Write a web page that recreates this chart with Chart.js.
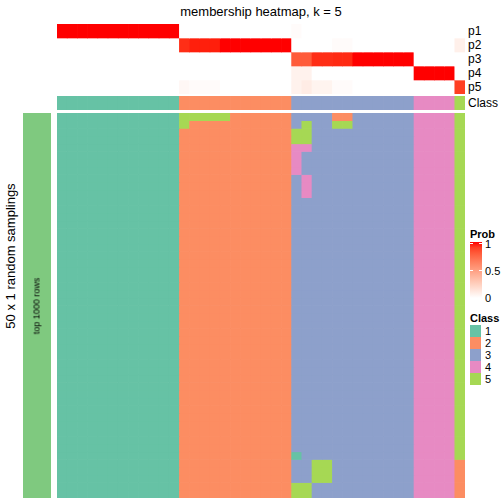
<!DOCTYPE html>
<html><head><meta charset="utf-8">
<script src="https://cdn.jsdelivr.net/npm/chart.js@4.4.1/dist/chart.umd.min.js"></script>
<style>
body{margin:0;background:#fff;font-family:"Liberation Sans",Arial,Helvetica,sans-serif;}
#wrap{position:relative;width:504px;height:504px;overflow:hidden;background:#fff;}
canvas{position:absolute;}
.t{position:absolute;white-space:nowrap;color:#000;line-height:1;transform:translateY(-50%);}
.box{position:absolute;}
</style></head><body><div id="wrap">
<canvas id="probChart" width="408" height="70" style="left:57px;top:24px;width:408px;height:70px"></canvas>
<canvas id="classChart" width="408" height="14" style="left:57px;top:96px;width:408px;height:14px"></canvas>
<canvas id="mainChart" width="408" height="385" style="left:57px;top:113px;width:408px;height:385px"></canvas>
<canvas id="leftChart" width="28" height="385" style="left:23px;top:113px;width:28px;height:385px"></canvas>
</div>
<script>
// ---------------- DATA ----------------
const title = "membership heatmap, k = 5";
const rowTitle = "50 x 1 random samplings";
const leftAnnoLabel = "top 1000 rows";
const probNames = ["p1", "p2", "p3", "p4", "p5"];
const classNames = ["1", "2", "3", "4", "5"];
const probTicks = ["1", "0.5", "0"];

// membership probabilities per column (40 columns)
const p1 = [1,1,1,1,1,1,1,1,1,1,1,1, 0,0,0,0,0,0,0,0,0,0,0, 0.02,0,0,0,0,0,0,0,0,0,0,0, 0,0,0,0, 0];
const p2 = [0,0,0,0,0,0,0,0,0,0,0,0, 0.94,0.97,0.97,0.97,1,1,1,1,1,1,1, 0,0,0,0,0.02,0.02,0,0,0,0,0,0, 0,0,0,0, 0.08];
const p3 = [0,0,0,0,0,0,0,0,0,0,0,0, 0,0,0,0,0,0,0,0,0,0,0, 0.8,0.8,0.94,0.94,0.95,0.95,1,1,1,1,1,1, 0,0,0,0, 0];
const p4 = [0,0,0,0,0,0,0,0,0,0,0,0, 0,0,0,0,0,0,0,0,0,0,0, 0.07,0.07,0,0,0,0,0,0,0,0,0,0, 1,1,1,1, 0];
const p5 = [0,0,0,0,0,0,0,0,0,0,0,0, 0.04,0.02,0.02,0.02,0,0,0,0,0,0,0, 0.07,0.1,0.06,0.06,0.02,0.02,0,0,0,0,0,0, 0,0,0,0, 0.9];

// consensus class per column
const consensusClass = [1,1,1,1,1,1,1,1,1,1,1,1, 2,2,2,2,2,2,2,2,2,2,2, 3,3,3,3,3,3,3,3,3,3,3,3, 4,4,4,4, 5];

// class assigned in each of the 50 random samplings (one string per sampling, one digit per column)
const samplingClasses = [
  "1111111111115555522222233332233333344445",
  "1111111111115222222222235335533333344445",
  "1111111111112222222222255333333333344445",
  "1111111111112222222222255333333333344445",
  "1111111111112222222222244333333333344445",
  "1111111111112222222222243333333333344445",
  "1111111111112222222222243333333333344445",
  "1111111111112222222222243333333333344445",
  "1111111111112222222222234333333333344445",
  "1111111111112222222222234333333333344445",
  "1111111111112222222222234333333333344445",
  "1111111111112222222222233333333333344445",
  "1111111111112222222222233333333333344445",
  "1111111111112222222222233333333333344445",
  "1111111111112222222222233333333333344445",
  "1111111111112222222222233333333333344445",
  "1111111111112222222222233333333333344445",
  "1111111111112222222222233333333333344445",
  "1111111111112222222222233333333333344445",
  "1111111111112222222222233333333333344445",
  "1111111111112222222222233333333333344445",
  "1111111111112222222222233333333333344445",
  "1111111111112222222222233333333333344445",
  "1111111111112222222222233333333333344445",
  "1111111111112222222222233333333333344445",
  "1111111111112222222222233333333333344445",
  "1111111111112222222222233333333333344445",
  "1111111111112222222222233333333333344445",
  "1111111111112222222222233333333333344445",
  "1111111111112222222222233333333333344445",
  "1111111111112222222222233333333333344445",
  "1111111111112222222222233333333333344445",
  "1111111111112222222222233333333333344445",
  "1111111111112222222222233333333333344445",
  "1111111111112222222222233333333333344445",
  "1111111111112222222222233333333333344445",
  "1111111111112222222222233333333333344445",
  "1111111111112222222222233333333333344445",
  "1111111111112222222222233333333333344445",
  "1111111111112222222222233333333333344445",
  "1111111111112222222222233333333333344445",
  "1111111111112222222222233333333333344445",
  "1111111111112222222222233333333333344445",
  "1111111111112222222222233333333333344445",
  "1111111111112222222222213333333333344445",
  "1111111111112222222222233553333333344442",
  "1111111111112222222222233553333333344442",
  "1111111111112222222222233553333333344442",
  "1111111111112222222222255333333333344442",
  "1111111111112222222222255333333333344442"
];

// ---------------- STYLE ----------------
const classColors = {"1":"#66C2A5","2":"#FC8D62","3":"#8DA0CB","4":"#E78AC3","5":"#A6D854"};
const leftAnnoColor = "#7FC97F";

function probColor(t){
  const L = 100 + (53.24 - 100) * t, a = 80.09 * t, b = 67.20 * t;
  const fy = (L + 16) / 116, fx = fy + a / 500, fz = fy - b / 200;
  const finv = f => f > 0.206893 ? f * f * f : (f - 16 / 116) / 7.787;
  const X = 0.95047 * finv(fx), Y = finv(fy), Z = 1.08883 * finv(fz);
  const r = 3.2406 * X - 1.5372 * Y - 0.4986 * Z;
  const g = -0.9689 * X + 1.8758 * Y + 0.0415 * Z;
  const bl = 0.0557 * X - 0.2040 * Y + 1.0570 * Z;
  const gam = c => { c = c <= 0.0031308 ? 12.92 * c : 1.055 * Math.pow(c, 1 / 2.4) - 0.055; return Math.round(255 * Math.min(1, Math.max(0, c))); };
  return `rgb(${gam(r)},${gam(g)},${gam(bl)})`;
}

const colLabels = consensusClass.map((_, i) => "col" + (i + 1));

function heatOptions(nRows){
  return {
    responsive: false, animation: false, devicePixelRatio: 1,
    layout: {padding: 0},
    plugins: {legend: {display: false}, tooltip: {enabled: false}, title: {display: false}},
    scales: {
      x: {display: false, stacked: true},
      y: {display: false, stacked: true, min: 0, max: nRows, reverse: true}
    },
    datasets: {bar: {barPercentage: 1, categoryPercentage: 1, borderWidth: 0}}
  };
}
function cellRow(label, colors){
  return {label, data: colors.map(() => 1), backgroundColor: colors, borderWidth: 0, barPercentage: 1, categoryPercentage: 1};
}

// Probability annotation
const probSeries = [p1, p2, p3, p4, p5];
new Chart(document.getElementById("probChart"), {
  type: "bar",
  data: {labels: colLabels, datasets: probSeries.map((s, i) => cellRow(probNames[i], s.map(probColor)))},
  options: heatOptions(probSeries.length)
});

// Class annotation
new Chart(document.getElementById("classChart"), {
  type: "bar",
  data: {labels: colLabels, datasets: [cellRow("Class", consensusClass.map(c => classColors[String(c)]))]},
  options: heatOptions(1)
});

// Main heatmap
new Chart(document.getElementById("mainChart"), {
  type: "bar",
  data: {labels: colLabels, datasets: samplingClasses.map((row, i) => cellRow("sampling " + (i + 1), row.split("").map(c => classColors[c])))},
  options: heatOptions(samplingClasses.length)
});

// Left annotation
new Chart(document.getElementById("leftChart"), {
  type: "bar",
  data: {labels: [leftAnnoLabel], datasets: [cellRow(leftAnnoLabel, [leftAnnoColor])]},
  options: heatOptions(1)
});

// ---------------- TEXT & LEGENDS ----------------
const wrap = document.getElementById("wrap");
function addText(txt, x, y, size, extra){
  const d = document.createElement("div");
  d.className = "t"; d.textContent = txt;
  d.style.left = x + "px"; d.style.top = y + "px"; d.style.fontSize = size + "px";
  if (extra) Object.assign(d.style, extra);
  wrap.appendChild(d); return d;
}
addText(title, 261, 11, 13, {transform: "translate(-50%,-50%)"});
addText(rowTitle, 10, 256, 13, {transform: "translate(-50%,-50%) rotate(-90deg)"});
addText(leftAnnoLabel, 37, 306, 9, {transform: "translate(-50%,-50%) rotate(-90deg)"});
probNames.forEach((n, i) => addText(n, 468, 31 + 14 * i, 12));
addText("Class", 468, 103, 12);

// Prob legend
addText("Prob", 470, 234, 11, {fontWeight: "bold"});
const grad = document.createElement("div");
const stops = [];
for (let k = 0; k <= 10; k++) stops.push(probColor(k / 10) + " " + (k * 10) + "%");
Object.assign(grad.style, {position: "absolute", left: "470px", top: "242px", width: "12px", height: "56px", background: "linear-gradient(to top," + stops.join(",") + ")"});
wrap.appendChild(grad);
[[243, "1"], [270, "0.5"]].forEach(([y]) => {
  ["470px", "479px"].forEach(x => {
    const m = document.createElement("div");
    Object.assign(m.style, {position: "absolute", left: x, top: y + "px", width: "3px", height: "1px", background: "#fff"});
    wrap.appendChild(m);
  });
});
addText(probTicks[0], 485, 244, 11);
addText(probTicks[1], 485, 271, 11);
addText(probTicks[2], 485, 298, 11);

// Class legend
addText("Class", 470, 318, 11, {fontWeight: "bold"});
classNames.forEach((c, i) => {
  const b = document.createElement("div");
  b.className = "box";
  Object.assign(b.style, {left: "470px", top: (325 + 12 * i) + "px", width: "11px", height: "12px", background: classColors[c]});
  wrap.appendChild(b);
  addText(c, 485, 331 + 12 * i, 11);
});
</script>
</body></html>
